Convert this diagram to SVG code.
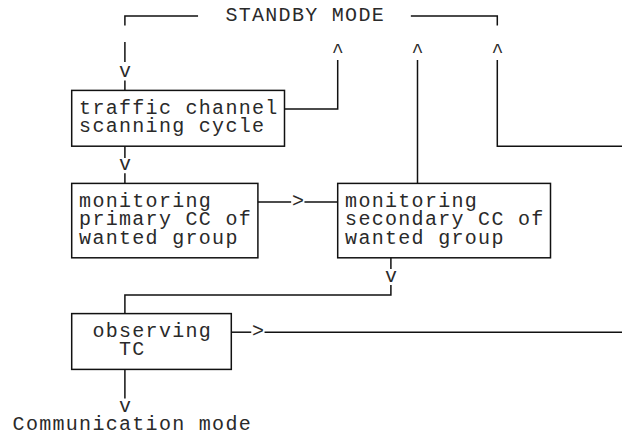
<svg xmlns="http://www.w3.org/2000/svg" width="622" height="437" viewBox="0 0 622 437">
  <style>
    text { font-family: "Liberation Mono", "DejaVu Sans Mono", monospace; font-size: 20px; letter-spacing: 1.3px; fill: #2a2a2a; }
    .box { fill: none; stroke: #111; stroke-width: 1.5; }
    .wire { fill: none; stroke: #111; stroke-width: 1.5; }
  </style>
  <rect width="622" height="437" fill="#fff"/>

  <!-- standby mode banner -->
  <g id="standby">
    <text x="225.4" y="20.5">STANDBY MODE</text>
  </g>

  <!-- state boxes -->
  <g id="scan">
    <rect class="box" x="71.7" y="90.4" width="212.8" height="55.8"/>
    <text x="79.1" y="113.5">traffic channel</text>
    <text x="79.1" y="132.1">scanning cycle</text>
  </g>
  <g id="primary">
    <rect class="box" x="71.7" y="183.4" width="186.2" height="74.4"/>
    <text x="79.1" y="206.5">monitoring</text>
    <text x="79.1" y="225.1">primary CC of</text>
    <text x="79.1" y="243.7">wanted group</text>
  </g>
  <g id="secondary">
    <rect class="box" x="337.7" y="183.4" width="212.8" height="74.4"/>
    <text x="345.1" y="206.5">monitoring</text>
    <text x="345.1" y="225.1">secondary CC of</text>
    <text x="345.1" y="243.7">wanted group</text>
  </g>
  <g id="observe">
    <rect class="box" x="71.7" y="313.6" width="159.6" height="55.8"/>
    <text x="92.4" y="336.7">observing</text>
    <text x="119" y="355.3">TC</text>
  </g>
  <g id="communication">
    <text x="12.6" y="429.7">Communication mode</text>
  </g>

  <!-- connectors with their character arrowheads -->
  <g id="connectors">
    <!-- standby bracket, left side down into scanning cycle -->
    <path class="wire" d="M198.05,16 H124.9 V25.5"/>
    <path class="wire" d="M124.9,42 V62"/>
    <text x="119" y="77.3">v</text>
    <path class="wire" d="M124.9,80.5 V90.4"/>

    <!-- standby bracket, right side -->
    <path class="wire" d="M410.85,16 H497.3 V25.5"/>

    <!-- return arrows up to standby -->
    <text x="331.8" y="56.5">^</text>
    <text x="411.6" y="56.5">^</text>
    <text x="491.4" y="56.5">^</text>
    <path class="wire" d="M284.5,109 H337.7 V60"/>
    <path class="wire" d="M417.5,60 V183.4"/>
    <path class="wire" d="M622,146.2 H497.3 V60"/>

    <!-- scanning cycle to primary CC -->
    <path class="wire" d="M124.9,146.2 V158"/>
    <text x="119" y="170.3">v</text>
    <path class="wire" d="M124.9,173.3 V183.4"/>

    <!-- primary CC to secondary CC -->
    <path class="wire" d="M257.9,202 H291.15"/>
    <text x="291.9" y="206.5">&gt;</text>
    <path class="wire" d="M304.45,202 H337.7"/>

    <!-- secondary CC to observing TC -->
    <path class="wire" d="M390.9,257.8 V269"/>
    <text x="385" y="281.9">v</text>
    <path class="wire" d="M390.9,285 V295 H124.9 V313.6"/>

    <!-- observing TC to the right -->
    <path class="wire" d="M231.3,332.2 H251.25"/>
    <text x="252" y="336.7">&gt;</text>
    <path class="wire" d="M264.55,332.2 H622"/>

    <!-- observing TC to communication mode -->
    <path class="wire" d="M124.9,369.4 V398.5"/>
    <text x="119" y="411.7">v</text>
  </g>
</svg>
